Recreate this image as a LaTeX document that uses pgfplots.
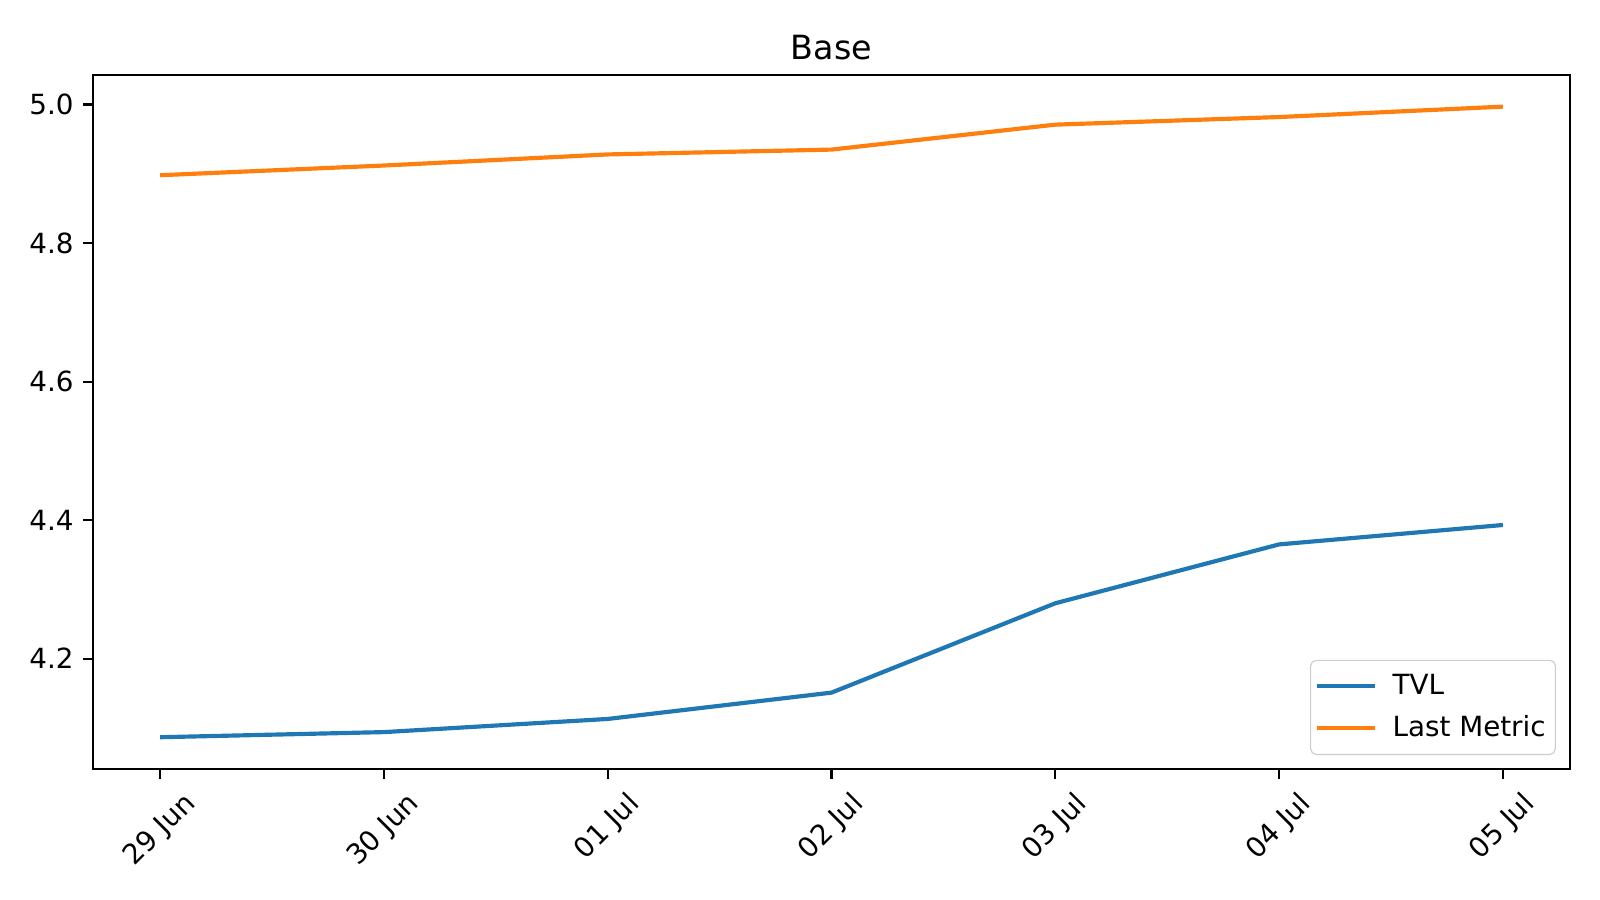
\documentclass[border=0pt]{standalone}
\usepackage{fontspec}
\setmainfont{DejaVu Sans}
\usepackage{graphicx}
\usepackage{pgfplots}
\pgfplotsset{compat=1.18}
\definecolor{mplblue}{HTML}{1F77B4}
\definecolor{mplorange}{HTML}{FF7F0E}
\begin{document}%
\begin{tikzpicture}[font=\fontsize{10}{12}\selectfont]
\path[use as bounding box] (-33.5pt,-47.2pt) rectangle (542.5pt,276.8pt);
\begin{scope}[overlay]
\begin{axis}[
  at={(0,0)}, anchor=south west,
  scale only axis, width=531.7pt, height=249.8pt,
  xmin=-0.3, xmax=6.3, ymin=4.0409, ymax=5.0427,
  xtick={0,1,2,3,4,5,6},
  xticklabels={\rotatebox{45}{29 Jun},\rotatebox{45}{30 Jun},\rotatebox{45}{01 Jul},\rotatebox{45}{02 Jul},\rotatebox{45}{03 Jul},\rotatebox{45}{04 Jul},\rotatebox{45}{05 Jul}},
  xticklabel style={anchor=north, font=\fontsize{10}{12}\selectfont, inner sep=1pt, yshift=-3pt},
  ytick={4.2,4.4,4.6,4.8,5.0},
  yticklabel style={font=\fontsize{10}{12}\selectfont},
  /pgf/number format/assume math mode=true,
  /pgf/number format/.cd, fixed, fixed zerofill, precision=1, /pgfplots/.cd,
  tick align=outside, tick pos=left, major tick length=3.5pt,
  tick style={black, line width=0.8pt},
  axis line style={line width=0.8pt},
  title={Base},
  title style={font=\fontsize{12}{14}\selectfont, yshift=-4pt},
  legend style={at={(0.9905,0.020)}, anchor=south east, draw=black!20, rounded corners=2pt, font=\fontsize{10}{12}\selectfont, row sep=2pt, inner xsep=1.5pt, inner ysep=3pt},
  legend cell align=left,
  legend image code/.code={\draw[#1] (0pt,0pt) -- (21pt,0pt);},
]
\addplot[mplblue, line width=1.5pt] coordinates {
(0,4.0866) (1,4.094) (2,4.113) (3,4.151) (4,4.280) (5,4.365) (6,4.393)};
\addlegendentry{\hspace{3.5pt}TVL}
\addplot[mplorange, line width=1.5pt] coordinates {
(0,4.898) (1,4.912) (2,4.928) (3,4.935) (4,4.971) (5,4.982) (6,4.997)};
\addlegendentry{\hspace{3.5pt}Last Metric}
\end{axis}
\end{scope}
\end{tikzpicture}%
\end{document}
